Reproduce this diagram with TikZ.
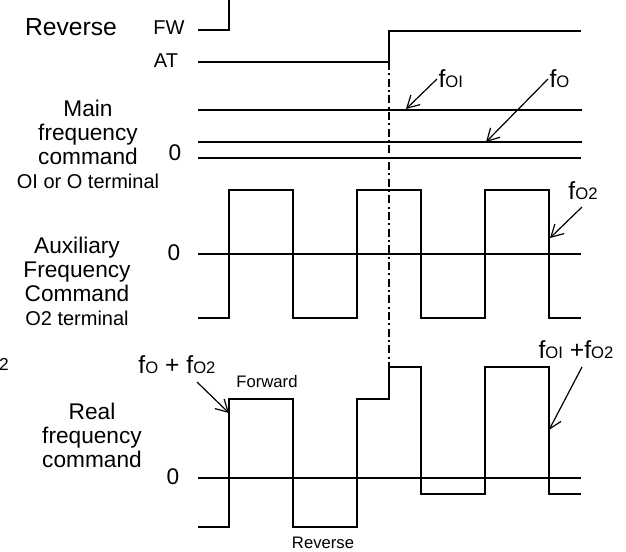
\documentclass[tikz,border=0pt]{standalone}
\usepackage{fontspec}
\setmainfont{Liberation Sans}
\usetikzlibrary{arrows.meta}
\newcommand\fsub[1]{{\fontsize{12.5}{13}\selectfont #1}}
\begin{document}
\begin{tikzpicture}[x=0.75pt,y=-0.75pt,
  wave/.style={line width=1.5pt},
  zero/.style={line width=0.9pt},
  pointer/.style={line width=0.9pt,-{Straight Barb[length=9pt,width=10pt]}},
  big/.style={font=\fontsize{17}{18}\selectfont,align=center,inner sep=0pt},
  mid/.style={font=\fontsize{15}{18}\selectfont,inner sep=0pt},
  tag/.style={font=\fontsize{18.5}{19}\selectfont,inner sep=1pt},
  small/.style={font=\fontsize{12.5}{14}\selectfont,inner sep=0pt}]
\useasboundingbox (0,0) rectangle (626,551);
\node[big,font=\fontsize{18.5}{20}\selectfont] (rev) at (71,27) {Reverse};
\node[mid] (fw) at (169,28) {FW};
\node[mid] (at) at (166,61) {AT};
\node[big] (main) at (88,144) {Main\\frequency\\command\\{\fontsize{15}{18}\selectfont OI or O terminal}};
\node[big] (aux) at (77,281) {Auxiliary\\Frequency\\Command\\{\fontsize{15}{18}\selectfont O2 terminal}};
\node[big] (real) at (92,435) {Real\\frequency\\command};
\node[big] (z1) at (175,153) {0};
\node[big] (z2) at (174,253) {0};
\node[big] (z3) at (173,477) {0};
\node[small,font=\fontsize{13}{14}\selectfont] (two) at (4,364) {2};
\node[small] (fwd) at (267,382) {Forward};
\node[small] (bwd) at (323,543) {Reverse};
% signal lines
\draw[wave] (198,30) -- (229,30) -- (229,0);
\draw[wave] (198,62) -- (389,62) -- (389,31) -- (581,31);
\draw[wave] (198,110) -- (582,110);
\draw[wave] (198,142) -- (582,142);
\draw[zero] (198,158) -- (581,158);
\draw[zero] (198,254) -- (581,254);
\draw[wave] (198,318) -- (229,318) -- (229,190) -- (293,190) -- (293,318) -- (357,318) -- (357,190)
  -- (421,190) -- (421,318) -- (485,318) -- (485,190) -- (549,190) -- (549,318) -- (581,318);
\draw[zero] (198,478) -- (581,478);
\draw[wave] (198,527) -- (229,527) -- (229,399) -- (293,399) -- (293,527) -- (357,527) -- (357,399)
  -- (389,399) -- (389,367) -- (421,367) -- (421,494) -- (485,494) -- (485,367) -- (549,367)
  -- (549,494) -- (581,494);
\draw[line width=1pt,dash pattern=on 6pt off 2.5pt on 1.5pt off 2.5pt] (389,62) -- (389,367);
% labels with pointers
\node[tag,anchor=west] (foi) at (437,79) {f\fsub{OI}};
\node[tag,anchor=west] (fo) at (548,79) {f\fsub{O}};
\node[tag] (fotwo) at (583,191) {f\fsub{O2}};
\node[tag] (sumfwd) at (177,365) {f\fsub{O} + f\fsub{O2}};
\node[tag] (sumrev) at (576,350) {f\fsub{OI} +f\fsub{O2}};
\coordinate (foitip) at (406,109);
\coordinate (fotip) at (486,142);
\coordinate (fotwotip) at (550,238);
\coordinate (sumfwdtip) at (229,413);
\coordinate (sumrevtip) at (549,430);
\draw[pointer] (foi.west) -- (foitip);
\draw[pointer] (fo.west) -- (fotip);
\draw[pointer] (582,207) -- (fotwotip);
\draw[pointer] (197,382) -- (sumfwdtip);
\draw[pointer] (582,367) -- (sumrevtip);
\end{tikzpicture}
\end{document}
